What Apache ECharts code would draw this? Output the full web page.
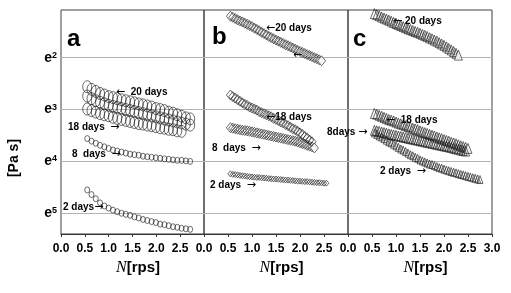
<!DOCTYPE html>
<html>
<head>
<meta charset="utf-8">
<script src="https://cdn.jsdelivr.net/npm/echarts@6/dist/echarts.min.js"></script>
<style>
html, body { margin: 0; padding: 0; background: #fff; }
#chart { width: 511px; height: 293px; }
</style>
</head>
<body>
<div id="chart"></div>
<script>
// shear rate N [rps] per panel
var xA = [0.55,0.64,0.73,0.82,0.91,1.00,1.09,1.18,1.27,1.36,1.45,1.54,1.63,1.72,1.81,1.90,1.99,2.08,2.17,2.26,2.35,2.44,2.53,2.62,2.71];
var xB = [0.55,0.60,0.65,0.70,0.75,0.80,0.85,0.90,0.95,1.00,1.05,1.10,1.15,1.20,1.25,1.30,1.35,1.40,1.45,1.50,1.55,1.60,1.65,1.70,1.75,1.80,1.85,1.90,1.95,2.00,2.05,2.10,2.15,2.20,2.25,2.30,2.35,2.40,2.45,2.50,2.55];
var xC = [0.55,0.60,0.65,0.70,0.75,0.80,0.85,0.90,0.95,1.00,1.05,1.10,1.15,1.20,1.25,1.30,1.35,1.40,1.45,1.50,1.55,1.60,1.65,1.70,1.75,1.80,1.85,1.90,1.95,2.00,2.05,2.10,2.15,2.20,2.25,2.30,2.35,2.40,2.45,2.50,2.55,2.60,2.65,2.70,2.75];

// viscosity, as exponent of e (axis runs downward)
var a20 = [2.56,2.61,2.65,2.69,2.72,2.75,2.77,2.79,2.81,2.83,2.85,2.87,2.89,2.91,2.93,2.95,2.98,3.00,3.02,3.05,3.07,3.10,3.13,3.16,3.18];
var a20b = [2.74,2.79,2.83,2.86,2.89,2.92,2.94,2.96,2.98,3.00,3.02,3.04,3.06,3.08,3.10,3.12,3.14,3.16,3.18,3.20,3.22,3.24,3.26,3.28,3.30];
var a18 = [2.99,3.02,3.05,3.08,3.10,3.12,3.15,3.17,3.19,3.21,3.23,3.25,3.27,3.28,3.30,3.31,3.33,3.35,3.36,3.38,3.39,3.41,3.42];
var a8 = [3.56,3.61,3.65,3.69,3.72,3.75,3.78,3.80,3.82,3.84,3.86,3.87,3.88,3.90,3.91,3.92,3.93,3.94,3.95,3.96,3.97,3.98,3.98,3.99,4.00];
var a2 = [4.55,4.64,4.72,4.80,4.86,4.90,4.94,4.97,5.00,5.02,5.04,5.07,5.09,5.12,5.14,5.16,5.18,5.21,5.22,5.24,5.26,5.27,5.29,5.30,5.31];

var b20 = [1.20,1.22,1.245,1.27,1.29,1.31,1.335,1.355,1.38,1.40,1.43,1.455,1.48,1.51,1.535,1.56,1.59,1.61,1.635,1.66,1.68,1.705,1.725,1.75,1.77,1.79,1.815,1.835,1.86,1.88,1.90,1.92,1.94,1.96,1.98,2.00,2.02,2.04,2.06];
var b18 = [2.72,2.75,2.78,2.81,2.84,2.87,2.90,2.92,2.95,2.97,2.99,3.01,3.04,3.06,3.08,3.10,3.12,3.14,3.17,3.19,3.21,3.24,3.26,3.29,3.31,3.34,3.37,3.39,3.42,3.45,3.48,3.52,3.55,3.59,3.62];
var b8 = [3.35,3.36,3.37,3.38,3.39,3.40,3.405,3.41,3.42,3.43,3.44,3.45,3.46,3.47,3.48,3.49,3.50,3.51,3.52,3.53,3.54,3.55,3.56,3.57,3.58,3.59,3.60,3.61,3.625,3.64,3.655,3.67,3.69,3.705,3.72,3.74];
var b2 = [4.24,4.25,4.255,4.26,4.27,4.275,4.28,4.29,4.295,4.30,4.305,4.31,4.31,4.315,4.32,4.325,4.33,4.335,4.34,4.34,4.345,4.35,4.355,4.36,4.36,4.365,4.37,4.375,4.38,4.38,4.385,4.39,4.39,4.395,4.40,4.405,4.41,4.41,4.415,4.42,4.42];

var c20 = [1.15,1.17,1.19,1.215,1.235,1.255,1.275,1.295,1.32,1.34,1.36,1.38,1.40,1.42,1.44,1.455,1.475,1.495,1.51,1.53,1.55,1.57,1.59,1.615,1.635,1.66,1.68,1.71,1.735,1.76,1.79,1.82,1.85,1.88,1.915,1.95];
var c18 = [3.075,3.09,3.11,3.13,3.15,3.17,3.19,3.205,3.22,3.24,3.26,3.275,3.29,3.31,3.325,3.34,3.36,3.375,3.39,3.41,3.43,3.445,3.46,3.48,3.495,3.51,3.53,3.545,3.56,3.58,3.595,3.61,3.63,3.645,3.66,3.68,3.70,3.715,3.73,3.75];
var c8 = [3.40,3.41,3.42,3.435,3.445,3.455,3.47,3.48,3.49,3.50,3.51,3.52,3.53,3.54,3.55,3.56,3.57,3.58,3.59,3.60,3.61,3.62,3.63,3.64,3.65,3.66,3.67,3.68,3.69,3.70,3.71,3.72,3.73,3.745,3.755,3.765,3.78,3.79,3.80];
var c2 = [3.45,3.48,3.51,3.53,3.56,3.59,3.62,3.64,3.67,3.70,3.73,3.76,3.78,3.81,3.84,3.87,3.89,3.92,3.94,3.97,3.99,4.01,4.03,4.05,4.06,4.08,4.10,4.12,4.13,4.15,4.165,4.18,4.195,4.21,4.22,4.235,4.25,4.26,4.275,4.29,4.30,4.315,4.325,4.34,4.35];

var yTicks = [2, 3, 4, 5];
var xTickMax = 3;

var FONT = 'Liberation Sans, Arial, sans-serif';

// zip x and y, optionally white-filled last marker
var pairs = function(xs, ys, whiteEnd) {
	var out = [];
	for (var i = 0; i < ys.length; i++) {
		if (whiteEnd && i == ys.length - 1)
			out.push({ value: [xs[i], ys[i]], itemStyle: { color: '#fff' } });
		else
			out.push([xs[i], ys[i]]);
	}
	return out;
};

var mkSeries = function(idx, xs, ys, symbol, size, whiteEnd) {
	return {
		type: 'scatter',
		xAxisIndex: idx,
		yAxisIndex: idx,
		symbol: symbol,
		symbolSize: size,
		silent: true,
		itemStyle: { color: 'rgba(0,0,0,0)', borderColor: '#1a1a1a', borderWidth: 0.8 },
		data: pairs(xs, ys, whiteEnd)
	};
};

var grids = [
	{ left: 61, top: 10, width: 143, height: 224 },
	{ left: 204, top: 10, width: 144, height: 224 },
	{ left: 348, top: 10, width: 144, height: 224 }
];

var xAxes = [], yAxes = [];
for (var g = 0; g < 3; g++) {
	grids[g].show = true;
	grids[g].borderColor = '#404040';
	grids[g].borderWidth = 1;
	grids[g].outerBoundsMode = 'none';
	grids[g].containLabel = false;

	(function(last) {
		xAxes.push({
			type: 'value', gridIndex: g, min: 0, max: xTickMax, interval: 0.5,
			name: '{n|N}{r|[rps]}', nameLocation: 'middle', nameGap: 24,
			nameTextStyle: {
				padding: [0, 0, 0, 11],
				rich: {
					n: { fontFamily: 'Liberation Serif, Times New Roman, serif', fontStyle: 'italic', fontSize: 16, color: '#000' },
					r: { fontFamily: FONT, fontWeight: 'bold', fontSize: 15, color: '#000' }
				}
			},
			axisLine: { show: true, onZero: false, lineStyle: { color: '#333', width: 1 } },
			axisTick: { show: true, length: 3, lineStyle: { color: '#333' } },
			axisLabel: {
				interval: 0, margin: 9, color: '#000', fontFamily: FONT, fontWeight: 'bold', fontSize: 12,
				formatter: function(v) { return (!last && v >= xTickMax) ? '' : v.toFixed(1); }
			},
			splitLine: { show: false }
		});
	})(g == 2);

	yAxes.push({
		type: 'value', gridIndex: g, inverse: true, min: 1.08, max: 5.4,
		axisLine: { show: false },
		axisTick: { show: false, customValues: yTicks },
		splitLine: { show: true, lineStyle: { color: '#b4b4b4', width: 1 } },
		axisLabel: {
			show: g == 0, customValues: yTicks, margin: 4,
			formatter: function(v) { return '{e|e}{s|' + v + '}'; },
			rich: {
				e: { fontFamily: FONT, fontWeight: 'bold', fontSize: 14, color: '#000' },
				s: { fontFamily: FONT, fontWeight: 'bold', fontSize: 9, color: '#000', verticalAlign: 'top' }
			}
		}
	});
}

var series = [
	mkSeries(0, xA, a20, 'circle', [9, 12], false),
	mkSeries(0, xA, a20b, 'circle', [9, 12], false),
	mkSeries(0, xA, a18, 'circle', [9, 12], false),
	mkSeries(0, xA, a8, 'circle', [5, 6], false),
	mkSeries(0, xA, a2, 'circle', [5, 6], false),

	mkSeries(1, xB, b20, 'diamond', [8, 10], true),
	mkSeries(1, xB, b18, 'diamond', [8, 10], false),
	mkSeries(1, xB, b8, 'diamond', [8, 10], true),
	mkSeries(1, xB, b2, 'diamond', [5, 6], false),

	mkSeries(2, xC, c20, 'triangle', [8, 10], true),
	mkSeries(2, xC, c18, 'triangle', [8, 10], true),
	mkSeries(2, xC, c8, 'triangle', [8, 10], false),
	mkSeries(2, xC, c2, 'triangle', [6, 8], false)
];

// annotation text; {l|..} and {r|..} are arrows drawn with DejaVu (has the glyphs)
var noteRich = {
	t: { fontFamily: FONT, fontWeight: 'bold', fontSize: 10, fill: '#000' },
	l: { fontFamily: 'DejaVu Sans', fontSize: 11, fill: '#000' },
	r: { fontFamily: 'DejaVu Sans', fontSize: 11, fill: '#000' }
};
var note = function(x, y, text, size) {
	var st = { text: text, fill: '#000', textVerticalAlign: 'middle' };
	if (size) st.font = 'bold ' + size + 'px ' + FONT;
	else st.rich = noteRich;
	return { type: 'text', x: x, y: y, silent: true, style: st };
};

var graphic = [
	note(67, 39, 'a', 24),
	note(212, 37, 'b', 24),
	note(353, 39, 'c', 24),
	note(116, 92, '{l|\u2190}{t|  20 days}'),
	note(68, 127, '{t|18 days  }{r|\u2192}'),
	note(72, 154, '{t|8  days  }{r|\u2192}'),
	note(63, 207, '{t|2 days}{r|\u2192}'),
	note(266, 28, '{l|\u2190}{t|20 days}'),
	note(293, 55, '{l|\u2190}'),
	note(266, 117, '{l|\u2190}{t|18 days}'),
	note(212, 148, '{t|8  days  }{r|\u2192}'),
	note(210, 185, '{t|2 days  }{r|\u2192}'),
	note(393, 21, '{l|\u2190}{t| 20 days}'),
	note(386, 120, '{l|\u2190}{t|  18 days}'),
	note(327, 132, '{t|8days }{r|\u2192}'),
	note(380, 171, '{t|2 days  }{r|\u2192}'),
	{
		type: 'text', x: 14, y: 158, rotation: Math.PI / 2, silent: true,
		style: {
			text: '[Pa s]', fill: '#000', textAlign: 'center', textVerticalAlign: 'middle',
			font: 'bold 14px ' + FONT
		}
	}
];

var chart = echarts.init(document.getElementById('chart'), null, { renderer: 'canvas' });
chart.setOption({
	animation: false,
	backgroundColor: '#fff',
	grid: grids,
	xAxis: xAxes,
	yAxis: yAxes,
	series: series,
	graphic: graphic
});
</script>
</body>
</html>
